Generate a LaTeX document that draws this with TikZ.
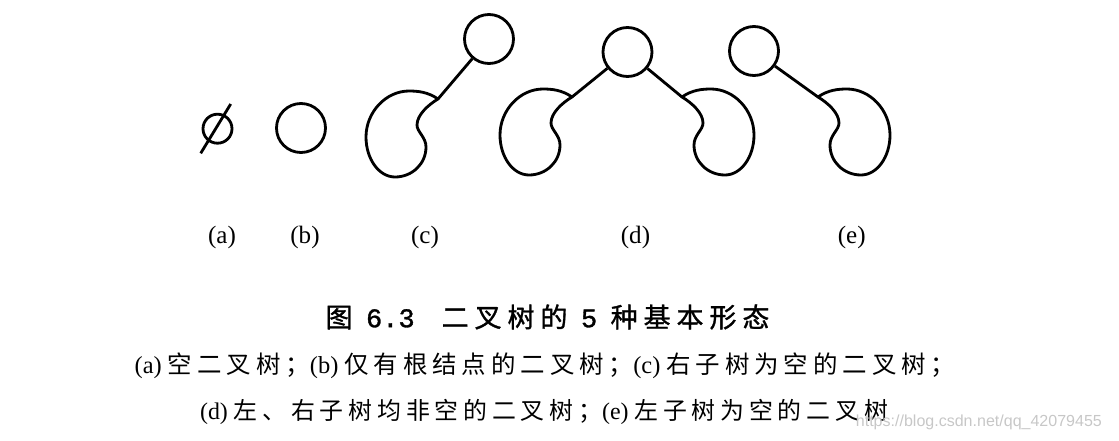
\documentclass[tikz,border=0pt]{standalone}
\usepackage{fontspec}
\setmainfont{Liberation Serif}
\setsansfont{Liberation Sans}
\newfontfamily\cjk{Noto Sans CJK SC}[LetterSpace=20]
\newfontfamily\cjkhead{Noto Sans CJK SC}[LetterSpace=22, FakeBold=1.2]
\newfontfamily\numhead{Liberation Mono}[FakeBold=1.2]
\newcommand{\zh}[1]{{\cjk #1}}
\newcommand{\zhhead}[1]{{\cjkhead #1}}

\tikzset{
	root/.style={circle, draw, minimum size=1.225cm, inner sep=0pt},
	lbl/.style={font=\fontsize{17.8}{20}\selectfont},
	kidney/.pic={
		\draw (0,0) .. controls (-10,-7) and (-20,-8) .. (-29,-8)
			.. controls (-52,-8) and (-72,13) .. (-72,38)
			.. controls (-72,60) and (-59,78) .. (-43,78)
			.. controls (-26,78) and (-12,65) .. (-12,48)
			.. controls (-12,38) and (-21,33) .. (-21,26)
			.. controls (-21,16) and (-10,6) .. (0,0) -- cycle;
	}
}

\begin{document}
\begin{tikzpicture}[x=0.025cm, y=-0.025cm, line width=2pt, line join=round]
	\useasboundingbox (0,0) rectangle (1119,441);

	% (a) and (b)
	\node[circle, draw, minimum size=0.725cm, inner sep=0pt] (ea) at (217.5,128.7) {};
	\draw (200.7,153.3) -- (230.7,104);
	\node[root] (b) at (301,128) {};

	% (c)
	\node[root] (c) at (489,39) {};
	\coordinate (cl) at (438,99);
	\pic at (cl) {kidney};
	\draw (c) -- (cl);

	% (d)
	\node[root] (d) at (627.5,52) {};
	\coordinate (dl) at (572,97);
	\coordinate (dr) at (682,97);
	\pic at (dl) {kidney};
	\pic[xscale=-1] at (dr) {kidney};
	\draw (d) -- (dl) (d) -- (dr);

	% (e)
	\node[root] (e) at (754,51) {};
	\coordinate (er) at (818,97);
	\pic[xscale=-1] at (er) {kidney};
	\draw (e) -- (er);

	\node[lbl] (la) at (222,237) {(a)};
	\node[lbl] (lb) at (305,237) {(b)};
	\node[lbl] (lc) at (425,237) {(c)};
	\node[lbl] (ld) at (635.5,237) {(d)};
	\node[lbl] (le) at (851.7,237) {(e)};

	\node[font=\fontsize{19.2}{22}\selectfont] (title) at (547.5,317)
		{\zhhead{图}\enspace{\numhead 6.3}\quad\zhhead{二叉树的}\enspace{\numhead 5}\enspace\zhhead{种基本形态}};
	\node[font=\fontsize{17.4}{20}\selectfont] (cap1) at (545,366)
		{(a) \zh{空二叉树；}(b) \zh{仅有根结点的二叉树；}(c) \zh{右子树为空的二叉树；}};
	\node[font=\fontsize{17}{20}\selectfont] (cap2) at (544,412)
		{(d) \zh{左、右子树均非空的二叉树；}(e) \zh{左子树为空的二叉树}};
	\node[anchor=east, text=black!22, font=\sffamily\fontsize{11.4}{13}\selectfont] (mark) at (1108,422)
		{https://blog.csdn.net/qq\_42079455};
\end{tikzpicture}
\end{document}
